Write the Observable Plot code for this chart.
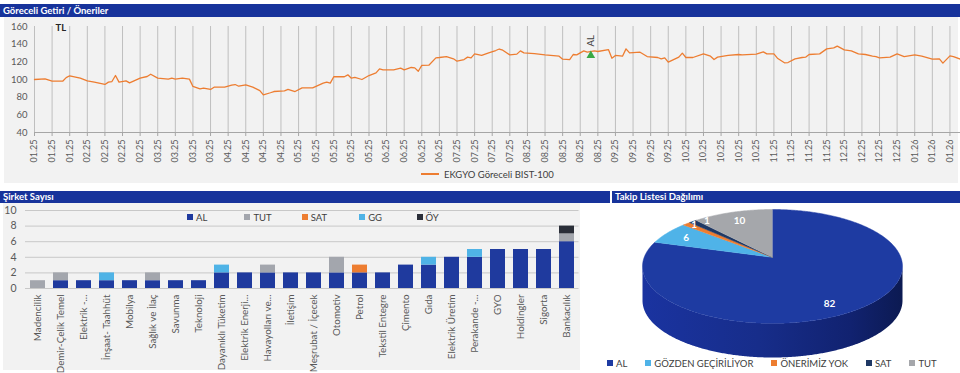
<!DOCTYPE html>
<html>
<head>
<meta charset="utf-8">
<script src="https://cdn.jsdelivr.net/npm/d3@7"></script>
<script src="https://cdn.jsdelivr.net/npm/@observablehq/plot@0.6"></script>
<style>
  html, body { margin: 0; padding: 0; background: #fff; }
  #root { position: relative; width: 960px; height: 373px; overflow: hidden; font-family: Lato, "Open Sans", sans-serif; background: #fff; }
  .abs { position: absolute; }
  .hdr { position: absolute; background: #17339b; color: #fff; font-weight: bold; font-size: 9.5px; line-height: 13px; padding-left: 3px; box-sizing: border-box; white-space: nowrap; }
  .panel { position: absolute; background: #f2f2f2; }
  .leg { position: absolute; display: flex; align-items: center; font-size: 9.5px; color: #404040; white-space: nowrap; }
  .sw { display: inline-block; width: 6px; height: 6px; margin-right: 3px; }
</style>
</head>
<body>
<div id="root">
  <div class="hdr" style="left:0;top:4px;width:960px;height:13px;">Göreceli Getiri / Öneriler</div>
  <div class="panel" style="left:4px;top:17px;width:954px;height:166px;"></div>
  <div id="lineChart" class="abs" style="left:0;top:17px;"></div>
  <div id="lineLegend" class="leg" style="left:421px;top:168px;height:12px;"></div>

  <div class="hdr" style="left:0;top:191px;width:610px;height:12px;line-height:12px;">Şirket Sayısı</div>
  <div class="hdr" style="left:612px;top:191px;width:348px;height:12px;line-height:12px;">Takip Listesi Dağılımı</div>
  <div class="panel" style="left:3px;top:203px;width:577px;height:167px;"></div>
  <div id="barChart" class="abs" style="left:0;top:203px;"></div>
  <div id="barLegend" class="leg" style="left:187px;top:211px;height:12px;"></div>

  <div id="pieChart" class="abs" style="left:590px;top:203px;"></div>
  <div id="pieLegend" class="leg" style="left:607px;top:357px;height:12px;gap:18px;"></div>
</div>
<script>
// ---------- Line chart data (trading-day index, relative value) ----------
const dayIndex = [0,3,5,8,9,10,13,15,17,20,21,22,23,24,26,27,30,32,33,35,38,39,40,42,44,45,47,48,50,51,54,56,57,58,60,62,64,65,67,68,71,72,74,76,79,82,83,84,85,88,89,90,91,93,95,97,98,99,102,104,105,107,108,109,110,112,114,115,117,119,120,122,123,124,125,127,129,131,132,133,135,137,138,139,142,145,149,150,152,153,154,156,157,159,160,163,164,165,167,168,169,172,174,177,178,179,180,183,184,185,187,190,192,193,194,197,200,201,205,207,208,210,211,213,214,216,218,219,220,223,225,227,228,230,232,234,236,238,239,240,243,245,247,250,252,255,257,258,260,261,263];
const relValues = [100,100.8,98.1,98.1,102.1,104.2,101.5,98.5,97,94.4,97,97.7,104.5,97,98.5,96.2,101.5,103.4,106,101.5,100.4,101.5,100.4,101.5,100.4,92.1,89.4,90.2,88.7,91.3,91.3,93.6,94.3,92.4,94,91.3,87.5,82.6,85,86.4,87.2,88.7,86.4,90.6,90.6,95.9,97,95.9,103.1,103.1,105.3,101.5,102.3,100,104.5,107.5,112.1,110.9,110.9,112.8,110.9,113.6,113.2,109.3,115.9,116.2,124.5,124.9,126,123.4,120.7,122.6,125.3,124.5,129,127.2,130.2,132.8,134.5,133.2,127.9,128.7,132.4,130.2,129.4,127.9,126.4,123,122.6,128.3,127.9,132.4,130.9,132.4,131.7,133.9,124.1,127.2,126.4,134.7,130.2,130.9,126,124.9,123.4,124.5,119.6,125.3,129.8,124.9,124.9,129,126.4,122.6,125.3,127.2,128.3,127.9,128.7,131.3,129,129,124.1,118.9,119.2,123.4,124.9,125.3,128.3,129,134.7,135.8,137.7,133.5,132.4,129,128.3,126.4,126,124.5,125.3,129,126,127.9,126.4,123,123.4,118.5,126.8,126,123];
const tickLabels = ["01.25","01.25","01.25","02.25","02.25","02.25","02.25","03.25","03.25","03.25","03.25","04.25","04.25","04.25","04.25","05.25","05.25","05.25","05.25","05.25","06.25","06.25","06.25","06.25","07.25","07.25","07.25","07.25","08.25","08.25","08.25","08.25","08.25","09.25","09.25","09.25","09.25","10.25","10.25","10.25","10.25","10.25","11.25","11.25","11.25","11.25","12.25","12.25","12.25","12.25","01.26","01.26","01.26"];
const ticksEvery = 5;
const lineYTicks = [40,60,80,100,120,140,160];
const recDay = [158];
const recValue = [127.2];
const recText = ["AL"];
const lineSeriesName = "EKGYO Göreceli BIST-100";
const unitLabel = "TL";

// ---------- Bar chart data ----------
const sectors = ["Madencilik","Demir-Çelik Temel","Elektrik -...","İnşaat- Taahhüt","Mobilya","Sağlık ve İlaç","Savunma","Teknoloji","Dayanıklı Tüketim","Elektrik Enerji...","Havayolları ve...","İletişim","Meşrubat / İçecek","Otomotiv","Petrol","Tekstil Entegre","Çimento","Gıda","Elektrik Üretim","Perakande -...","GYO","Holdingler","Sigorta","Bankacılık"];
const alCounts  = [0,1,1,1,1,1,1,1,2,2,2,2,2,2,2,2,3,3,4,4,5,5,5,6];
const tutCounts = [1,1,0,0,0,1,0,0,0,0,1,0,0,2,0,0,0,0,0,0,0,0,0,1];
const satCounts = [0,0,0,0,0,0,0,0,0,0,0,0,0,0,1,0,0,0,0,0,0,0,0,0];
const ggCounts  = [0,0,0,1,0,0,0,0,1,0,0,0,0,0,0,0,0,1,0,1,0,0,0,0];
const oyCounts  = [0,0,0,0,0,0,0,0,0,0,0,0,0,0,0,0,0,0,0,0,0,0,0,1];
const barSeries = ["AL","TUT","SAT","GG","ÖY"];
const barColors = ["#1f3a9e","#a3a6ad","#ed7d31","#4fb3e6","#2a2e38"];
const barYTicks = [0,2,4,6,8,10];

// ---------- Pie data ----------
const pieLabels = ["AL","GÖZDEN GEÇİRİLİYOR","ÖNERİMİZ YOK","SAT","TUT"];
const pieValues = [82,6,1,1,10];
const pieColors = ["#1e3ba2","#4fb3e8","#ed7d31","#1f3864","#a5a7ab"];

const baseStyle = {background: "transparent", fontFamily: "Lato, 'Open Sans', sans-serif", color: "#595959", overflow: "visible"};

// ===== Line chart =====
const lineData = dayIndex.map((d, i) => ({day: d, value: relValues[i]}));
const tickDays = tickLabels.map((_, i) => i * ticksEvery);
const recs = recDay.map((d, i) => ({day: d, value: recValue[i], text: recText[i]}));

const lineChart = Plot.plot({
  width: 960, height: 150,
  marginTop: 9, marginBottom: 35, marginLeft: 34, marginRight: 0,
  style: {...baseStyle, fontSize: "9px"},
  x: {domain: [0, 263], label: null},
  y: {domain: [40, 160], label: null},
  marks: [
    Plot.gridX(tickDays, {stroke: "#bfbfbf", strokeOpacity: 1, strokeWidth: 1}),
    Plot.ruleY([40], {stroke: "#a6a6a6"}),
    Plot.axisY(lineYTicks, {tickSize: 0, tickPadding: 7, fontSize: 9.5, fill: "#595959", label: null}),
    Plot.axisX(tickDays, {tickFormat: d => tickLabels[d / ticksEvery], tickRotate: -90, tickSize: 4, tickPadding: 3, stroke: "#a6a6a6", fill: "#595959", fontSize: 9, label: null}),
    Plot.line(lineData, {x: "day", y: "value", stroke: "#ed7d31", strokeWidth: 1.3}),
    Plot.dot(recs, {x: "day", y: "value", symbol: "triangle", fill: "#3aa845", r: 3.2}),
    Plot.text(recs, {x: "day", y: "value", text: "text", rotate: -90, textAnchor: "start", dy: -9, fontSize: 9.5, fill: "#404040"}),
    Plot.text([unitLabel], {frameAnchor: "top-left", dx: 21, dy: -2, fontWeight: "bold", fontSize: 9.5, fill: "#262626"})
  ]
});
document.getElementById("lineChart").append(lineChart);
document.getElementById("lineLegend").innerHTML =
  `<span style="display:inline-block;width:18px;height:1.5px;background:#ed7d31;margin-right:5px;"></span>${lineSeriesName}`;

// ===== Bar chart =====
const countsBySeries = [alCounts, tutCounts, satCounts, ggCounts, oyCounts];
const barData = sectors.flatMap((s, i) =>
  barSeries.map((name, k) => ({sector: s, series: name, count: countsBySeries[k][i]}))
).filter(d => d.count > 0);

const barChart = Plot.plot({
  width: 580, height: 167,
  marginTop: 7, marginBottom: 82, marginLeft: 25, marginRight: 1.5,
  style: {...baseStyle, fontSize: "10px"},
  x: {domain: sectors, paddingInner: 0.33, paddingOuter: 0.16, label: null},
  y: {domain: [0, 10], label: null},
  color: {domain: barSeries, range: barColors},
  marks: [
    Plot.gridY(barYTicks, {stroke: "#c8c8c8", strokeOpacity: 1}),
    Plot.barY(barData, {x: "sector", y: "count", fill: "series", order: barSeries}),
    Plot.axisY(barYTicks, {tickSize: 0, tickPadding: 9, fontSize: 10.5, fill: "#595959", label: null}),
    Plot.axisX({tickRotate: -90, tickSize: 0, tickPadding: 6, fontSize: 9.8, fill: "#595959", label: null})
  ]
});
document.getElementById("barChart").append(barChart);
document.getElementById("barLegend").innerHTML = barSeries.map((s, i) =>
  `<span style="display:inline-flex;align-items:center;width:57.4px;"><span class="sw" style="background:${barColors[i]}"></span>${s}</span>`
).join("");

// ===== 3D pie =====
const total = d3.sum(pieValues);
let acc = 0;
const slices = pieValues.map((v, i) => {
  const a0 = acc / total * 2 * Math.PI; acc += v;
  const a1 = acc / total * 2 * Math.PI;
  return {label: pieLabels[i], value: v, color: pieColors[i], a0, a1};
});
const apexY = 0.16, depth = 0.6;
function arcPts(a0, a1, dy = 0) {
  const n = Math.max(2, Math.ceil((a1 - a0) / 0.01));
  return d3.range(n + 1).map(k => { const a = a0 + (a1 - a0) * k / n; return {x: Math.sin(a), y: Math.cos(a) + dy}; });
}
const wallPts = [...arcPts(Math.PI / 2, 3 * Math.PI / 2), ...arcPts(Math.PI / 2, 3 * Math.PI / 2, -depth).reverse()];
const slicePolys = slices.map(s => [{x: 0, y: apexY}, ...arcPts(s.a0, s.a1)]);
const pieText = slices.map((s, i) => {
  const m = (s.a0 + s.a1) / 2;
  const small = s.value / total < 0.03;
  const r = small ? 0.9 : 0.82;
  return {x: r * Math.sin(m), y: apexY * (1 - r) + r * Math.cos(m), text: String(s.value), small, idx: i};
});
const bigText = pieText.filter(d => !d.small);
const smallText = pieText.filter(d => d.small);

const pieChart = Plot.plot({
  width: 370, height: 170,
  marginLeft: 52, marginRight: 58, marginTop: 6, marginBottom: 16,
  style: {...baseStyle},
  x: {domain: [-1, 1], axis: null},
  y: {domain: [-1 - depth, 1], axis: null},
  marks: [
    Plot.line(wallPts, {x: "x", y: "y", fill: "url(#pieWall)", stroke: "none"}),
    ...slicePolys.map((pts, i) => Plot.line(pts, {x: "x", y: "y", fill: slices[i].color, stroke: slices[i].color, strokeWidth: 0.5})),
    Plot.text(bigText, {x: "x", y: "y", text: "text", fill: "white", fontWeight: "bold", fontSize: 10}),
    Plot.text(smallText.slice(0, 1), {x: "x", y: "y", text: "text", fill: "white", fontWeight: "bold", fontSize: 10, dx: -1, dy: -2}),
    Plot.text(smallText.slice(1), {x: "x", y: "y", text: "text", fill: "white", fontWeight: "bold", fontSize: 10, dx: 6, dy: -4})
  ]
});
pieChart.insertAdjacentHTML("afterbegin",
  `<defs><linearGradient id="pieWall" x1="0" x2="1" y1="0" y2="0">
     <stop offset="0" stop-color="#1a33a0"/><stop offset="0.45" stop-color="#172d8a"/>
     <stop offset="0.8" stop-color="#112270"/><stop offset="1" stop-color="#0c1a52"/>
   </linearGradient></defs>`);
document.getElementById("pieChart").append(pieChart);
document.getElementById("pieLegend").innerHTML = pieLabels.map((s, i) =>
  `<span style="display:inline-flex;align-items:center;"><span class="sw" style="background:${pieColors[i]}"></span>${s}</span>`
).join("");
</script>
</body>
</html>
